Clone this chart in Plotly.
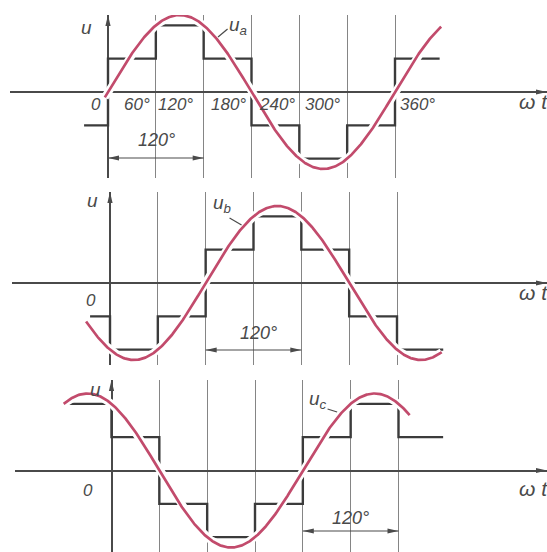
import numpy as np
import plotly.graph_objects as go

# switching instants of the six-step waveform, degrees
edges = [0, 60, 120, 180, 240, 300, 360]

# phase voltages as fractions of Ud, one level per interval
# (first: segment before 0°, last: segment after 360°)
ua_levels = [-1/3, 1/3, 2/3, 1/3, -1/3, -2/3, -1/3, 1/3]
ub_levels = [-1/3, -2/3, -1/3, 1/3, 2/3, 1/3, -1/3, -2/3]
uc_levels = [2/3, 1/3, -1/3, -2/3, -1/3, 1/3, 2/3, 1/3]

# drawn extent of each stepped curve, degrees
ua_span = [-30, 416]
ub_span = [-25, 418]
uc_span = [-58, 416]

# fundamental harmonic of each phase: amplitude (fraction of Ud) and phase shift
u1_amp = 0.77
ua_phase, ub_phase, uc_phase = 0, -120, 120
ua_sine_span = [-4, 418]
ub_sine_span = [-30, 416]
uc_sine_span = [-60, 374]

grid_deg = [60, 120, 180, 240, 300, 360]
deg_labels = ["60°", "120°", "180°", "240°", "300°", "360°"]

STEP_COLOR = "#3b3b3b"
SINE_COLOR = "#c24b6c"
GRID_COLOR = "#858585"
AXIS_COLOR = "#4a4a4a"
TEXT_COLOR = "#4a4a4a"
FONT = "Liberation Sans, Arial, sans-serif"

W, H = 547, 552
PX_PER_DEG = 287 / 360
UNIT_PX = 100  # pixels per Ud on the vertical scale

# page layout of the three panels: horizontal-axis row, 0° column,
# top/bottom of the grid, left end of the horizontal axis
panels = [
    dict(axis_row=92, zero_col=108, top=15, bottom=178, left=10),
    dict(axis_row=283, zero_col=110, top=192, bottom=365, left=12),
    dict(axis_row=470.5, zero_col=111.5, top=380, bottom=552, left=15),
]

fig = go.Figure()
layout = dict(
    width=W, height=H, margin=dict(l=0, r=0, t=0, b=0),
    paper_bgcolor="white", plot_bgcolor="rgba(0,0,0,0)",
    showlegend=False, shapes=[], annotations=[],
)

phases = [
    (ua_levels, ua_span, ua_phase, ua_sine_span),
    (ub_levels, ub_span, ub_phase, ub_sine_span),
    (uc_levels, uc_span, uc_phase, uc_sine_span),
]

for i, (p, (levels, span, phase, sspan)) in enumerate(zip(panels, phases), start=1):
    xa, ya = f"x{i}", f"y{i}"
    x_lo = (p["left"] - p["zero_col"]) / PX_PER_DEG
    x_hi = (W - p["zero_col"]) / PX_PER_DEG
    y_lo = (p["axis_row"] - p["bottom"]) / UNIT_PX
    y_hi = (p["axis_row"] - p["top"]) / UNIT_PX
    layout[f"xaxis{i}"] = dict(
        domain=[p["left"] / W, 1], range=[x_lo, x_hi], anchor=ya,
        tickvals=grid_deg, showticklabels=False, ticks="",
        showgrid=True, gridcolor=GRID_COLOR, gridwidth=1,
        zeroline=True, zerolinecolor=AXIS_COLOR, zerolinewidth=1.5,
        showline=False, fixedrange=True,
    )
    layout[f"yaxis{i}"] = dict(
        domain=[1 - p["bottom"] / H, 1 - p["top"] / H], range=[y_lo, y_hi], anchor=xa,
        showgrid=False, showticklabels=False, ticks="",
        zeroline=True, zerolinecolor=AXIS_COLOR, zerolinewidth=1.5,
        showline=False, fixedrange=True,
    )

    # stepped phase voltage
    sx = [span[0]] + edges + [span[1]]
    sy = levels + [levels[-1]]
    fig.add_trace(go.Scatter(x=sx, y=sy, mode="lines", line=dict(color=STEP_COLOR, width=2.4, shape="hv"),
                             xaxis=xa, yaxis=ya, hoverinfo="skip"))

    # fundamental sinusoid, with a white border so crossed lines break around it
    th = np.linspace(sspan[0], sspan[1], 500)
    u1 = u1_amp * np.sin(np.radians(th + phase))
    fig.add_trace(go.Scatter(x=th, y=u1, mode="lines", line=dict(color="white", width=8),
                             xaxis=xa, yaxis=ya, hoverinfo="skip"))
    fig.add_trace(go.Scatter(x=th, y=u1, mode="lines", line=dict(color=SINE_COLOR, width=2.7),
                             xaxis=xa, yaxis=ya, hoverinfo="skip"))

    # arrowheads of the u and ωt axes
    layout["shapes"].append(dict(type="path", xref=xa, yref=ya, xsizemode="pixel", ysizemode="pixel",
                                 xanchor=0, yanchor=y_hi, path="M0,0 L-2.6,-11 L2.6,-11 Z",
                                 fillcolor=AXIS_COLOR, line=dict(width=0)))
    layout["shapes"].append(dict(type="path", xref=xa, yref=ya, xsizemode="pixel", ysizemode="pixel",
                                 xanchor=x_hi, yanchor=0, path="M0,0 L-11,2.6 L-11,-2.6 Z",
                                 fillcolor=AXIS_COLOR, line=dict(width=0)))

fig.update_layout(**layout)


def text(i, x, y, s, size=17, xanchor="center", xshift=0):
    fig.add_annotation(xref=f"x{i}", yref=f"y{i}", x=x, y=y, text=s, showarrow=False,
                       xanchor=xanchor, yanchor="middle", xshift=xshift,
                       font=dict(family=FONT, size=size, color=TEXT_COLOR, style="italic"))


def dim_arrow(i, x0, x1, y):
    fig.add_shape(type="line", xref=f"x{i}", yref=f"y{i}", x0=x0, x1=x1, y0=y, y1=y,
                  line=dict(color=AXIS_COLOR, width=1.2))
    for xa_, path in ((x1, "M0,0 L-11,2.4 L-11,-2.4 Z"), (x0, "M0,0 L11,2.4 L11,-2.4 Z")):
        fig.add_shape(type="path", xref=f"x{i}", yref=f"y{i}", xsizemode="pixel", ysizemode="pixel",
                      xanchor=xa_, yanchor=y, path=path, fillcolor=AXIS_COLOR, line=dict(width=0))


def leader(i, x0, y0, x1, y1):
    fig.add_shape(type="line", xref=f"x{i}", yref=f"y{i}", x0=x0, y0=y0, x1=x1, y1=y1,
                  line=dict(color=AXIS_COLOR, width=1.2))


# panel 1: u_a with degree labels
deg_shift = [-4, -9, -4, -2, -5]
for d, lab, sh in zip(grid_deg[:-1], deg_labels[:-1], deg_shift):
    text(1, d, -0.12, lab, xanchor="right", xshift=sh)
text(1, 360, -0.12, deg_labels[-1], xanchor="left", xshift=3)
text(1, 0, -0.12, "0", xanchor="right", xshift=-5)
text(1, 0, 0.65, "u", size=19, xanchor="right", xshift=-14)
text(1, 163, 0.66, "u<sub>a</sub>", size=19)
leader(1, 138, 0.55, 150, 0.63)
dim_arrow(1, 0, 120, -0.66)
text(1, 61, -0.48, "120°", size=18)

# panel 2: u_b
text(2, 0, -0.17, "0", xanchor="right", xshift=-12)
text(2, 0, 0.83, "u", size=19, xanchor="right", xshift=-10)
text(2, 141, 0.79, "u<sub>b</sub>", size=19)
leader(2, 150, 0.65, 165, 0.58)
dim_arrow(2, 120, 240, -0.67)
text(2, 186, -0.5, "120°", size=18)

# panel 3: u_c
text(3, 0, -0.195, "0", xanchor="right", xshift=-17)
text(3, 0, 0.815, "u", size=19, xanchor="right", xshift=-9)
text(3, 259, 0.71, "u<sub>c</sub>", size=19)
leader(3, 271, 0.615, 283, 0.585)
dim_arrow(3, 240, 360, -0.605)
text(3, 300, -0.475, "120°", size=18)

# ωt axis titles
for i, (p, dy) in enumerate(zip(panels, [-0.09, -0.09, -0.175]), start=1):
    x_t = (517 - p["zero_col"]) / PX_PER_DEG
    text(i, x_t, dy, "ω t", size=21, xanchor="left")

fig.write_html("out.html")
